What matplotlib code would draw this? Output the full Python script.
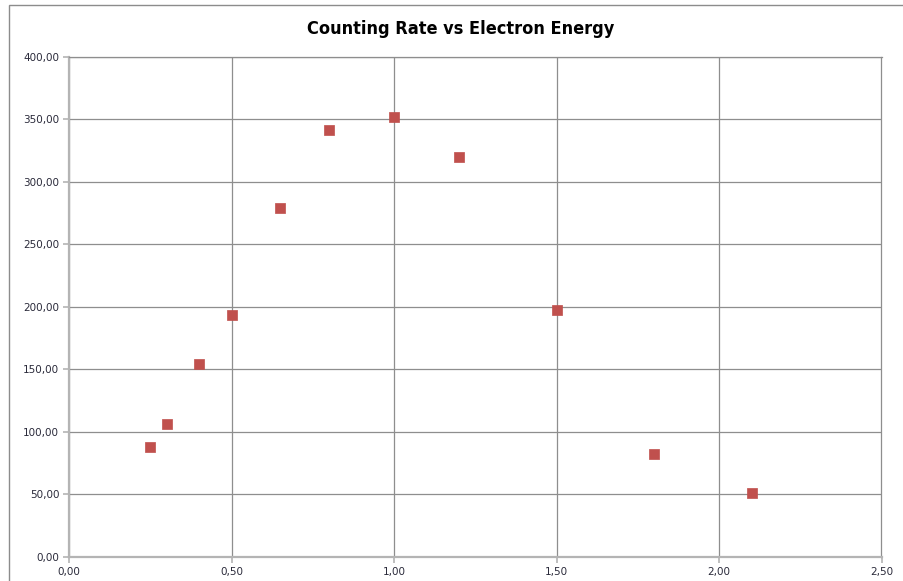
import matplotlib
matplotlib.use("Agg")
import matplotlib.pyplot as plt
from matplotlib.ticker import FuncFormatter, MultipleLocator
from matplotlib.patches import Rectangle

energy = [0.25, 0.30, 0.40, 0.50, 0.65, 0.80, 1.00, 1.20, 1.50, 1.80, 2.10]
rate = [88.0, 106.5, 154.5, 193.5, 279.0, 341.0, 351.5, 320.0, 197.5, 82.5, 51.0]
title = "Counting Rate vs Electron Energy"

fig = plt.figure(figsize=(9.04, 5.81), dpi=100)
fig.patches.append(Rectangle((9/904, -0.01), 1.0, (581-5)/581 + 0.01, transform=fig.transFigure,
                             fill=False, edgecolor="#8c8c8c", linewidth=1.0))
L, R, T, B = 69, 881.5, 56.7, 557
ax = fig.add_axes([L/904, (581-B)/581, (R-L)/904, (B-T)/581])

ax.scatter(energy, rate, marker="s", s=45, color="#C0504D", edgecolors="#C0504D",
           linewidths=0.5, zorder=3)

ax.set_xlim(0, 2.5)
ax.set_ylim(0, 400)
ax.xaxis.set_major_locator(MultipleLocator(0.5))
ax.yaxis.set_major_locator(MultipleLocator(50))
fmt = FuncFormatter(lambda v, p: f"{v:.2f}".replace(".", ","))
ax.xaxis.set_major_formatter(fmt)
ax.yaxis.set_major_formatter(fmt)
ax.grid(True, color="#8e8e8e", linewidth=0.9)
ax.set_axisbelow(True)
for side in ("top", "right"):
    ax.spines[side].set_color("#8e8e8e")
    ax.spines[side].set_linewidth(0.9)
for side in ("left", "bottom"):
    ax.spines[side].set_color("#b4b4b4")
    ax.spines[side].set_linewidth(1.6)
ax.tick_params(axis="both", colors="#b4b4b4", length=4, width=1.2, labelsize=7.5,
               labelcolor="#2a2a3a", pad=3)

fig.text(0.51, 1 - 29/581, title, ha="center", va="center", fontsize=13,
         fontweight="bold", fontstretch="condensed", family=["DejaVu Sans"])

fig.savefig("out.png", dpi=100)
